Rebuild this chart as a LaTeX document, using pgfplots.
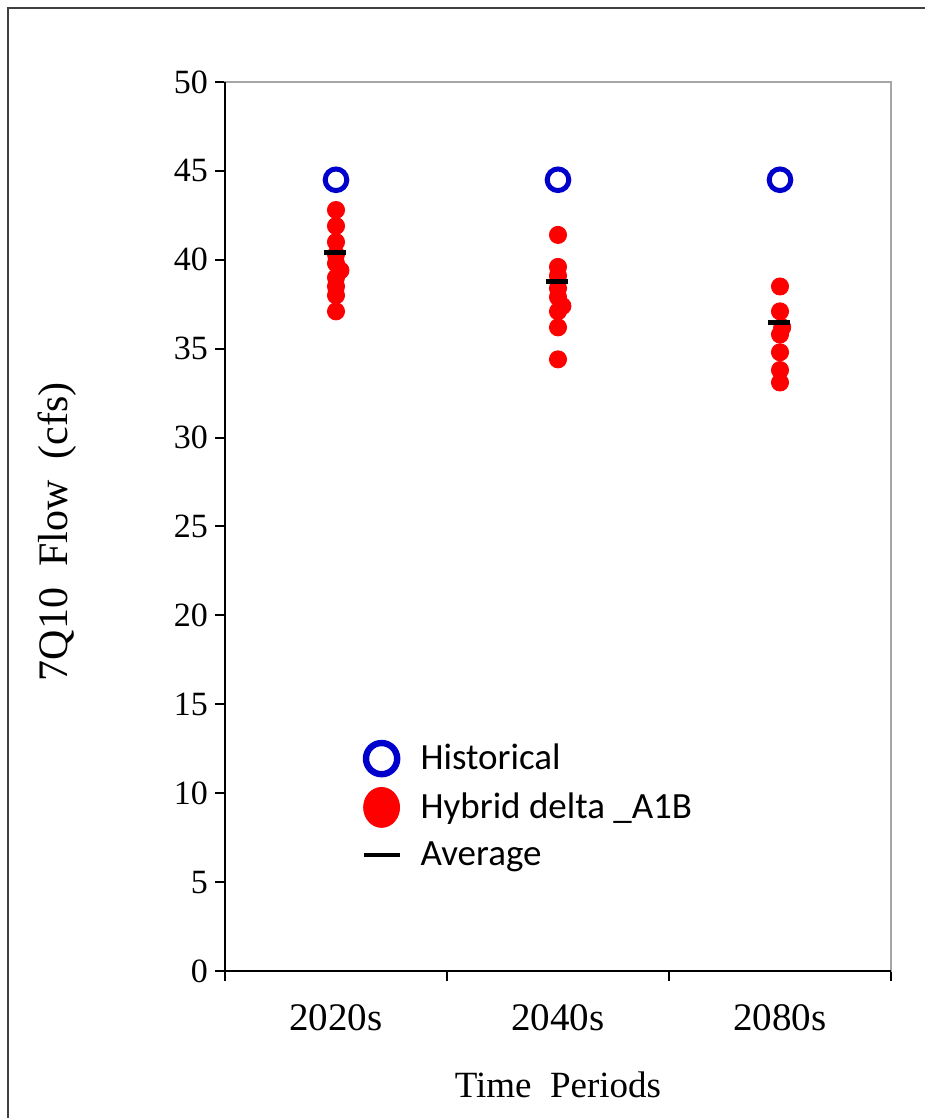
\documentclass[border=0pt]{standalone}
\usepackage{fontspec}
\setmainfont{Liberation Serif}
\newfontfamily\calibri{Carlito}
\usepackage{pgfplots}
\usepackage{pgfplotstable}
\pgfplotsset{compat=1.18}
\definecolor{histblue}{RGB}{0,0,204}
\definecolor{hybred}{RGB}{255,0,0}

% historical 7Q10 flow
\pgfplotstableread{
x y
0.50 44.5
1.50 44.5
2.50 44.5
}\histdata

% hybrid delta A1B runs
\pgfplotstableread{
x y
0.50 42.8
0.50 41.9
0.50 41.0
0.50 40.3
0.50 39.8
0.52 39.4
0.50 39.0
0.50 38.5
0.50 38.0
0.50 37.1
1.50 41.4
1.50 39.6
1.50 39.1
1.50 38.4
1.50 37.9
1.52 37.4
1.50 37.1
1.50 36.2
1.50 34.4
2.50 38.5
2.50 37.1
2.51 36.2
2.50 35.8
2.50 34.8
2.50 33.8
2.50 33.1
}\hybdata

% averages
\pgfplotstableread{
x y
0.495 40.4
1.495 38.8
2.495 36.5
}\avgdata

\begin{document}
\begin{tikzpicture}
\useasboundingbox (-112.5pt,-73.5pt) rectangle (350pt,485.5pt);
\draw[line width=1pt, black!75] (-108.5pt,-90pt) -- (-108.5pt,481.5pt) -- (360pt,481.5pt);
\begin{axis}[
  scale only axis, width=333pt, height=444.5pt,
  xmin=0, xmax=3, ymin=0, ymax=50,
  axis line style={gray!70, line width=1pt},
  tick align=outside, major tick length=5pt,
  tick style={black, line width=1pt},
  xtick={0,1,2,3}, xticklabels={},
  extra x ticks={0.5,1.5,2.5},
  extra x tick labels={2020s,2040s,2080s},
  extra x tick style={major tick length=0pt,
    tick label style={font=\fontsize{19.5}{21}\selectfont, yshift=-13pt}},
  ytick={0,5,...,50},
  yticklabel style={font=\fontsize{17}{19}\selectfont},
  xtick pos=bottom, ytick pos=left,
  /pgf/number format/assume math mode=true,
  xlabel={Time\ \ Periods},
  ylabel={7Q10\ \ Flow\ \ (cfs)},
  x label style={font=\fontsize{18.5}{20}\selectfont,
    at={(axis description cs:0.5,-0.128)}, anchor=center},
  y label style={font=\fontsize{21}{23}\selectfont,
    at={(axis description cs:-0.252,0.494)}, anchor=center},
  clip=false,
  legend style={at={(axis description cs:0.1955,0.265)}, anchor=north west,
    draw=none, fill=none, font=\calibri\fontsize{18.5}{20}\selectfont,
    row sep=4.8pt, /tikz/every odd column/.append style={column sep=7.5pt}},
  legend cell align=left,
]
\draw[black, line width=1pt] (rel axis cs:0,1) -- (rel axis cs:0,0) -- (rel axis cs:1,0);
\addplot[only marks, mark=o, mark size=5.4pt,
  mark options={draw=histblue, line width=2.5pt},
  legend image code/.code={\draw[histblue, line width=3.2pt] (0pt,0pt) circle (7.8pt);}]
  table {\histdata};
\addlegendentry{Historical}
\addplot[only marks, mark=*, mark size=4.3pt,
  mark options={draw=hybred, fill=hybred},
  legend image code/.code={\fill[hybred] (0pt,0pt) ellipse (9pt and 10pt);}]
  table {\hybdata};
\addlegendentry{Hybrid delta \_A1B}
\addplot[only marks, mark=-, mark size=5.5pt,
  mark options={draw=black, line width=2.5pt},
  legend image code/.code={\draw[black, line width=2pt] (-9pt,0pt) -- (9pt,0pt);}]
  table {\avgdata};
\addlegendentry{Average}
\end{axis}
\end{tikzpicture}
\end{document}
